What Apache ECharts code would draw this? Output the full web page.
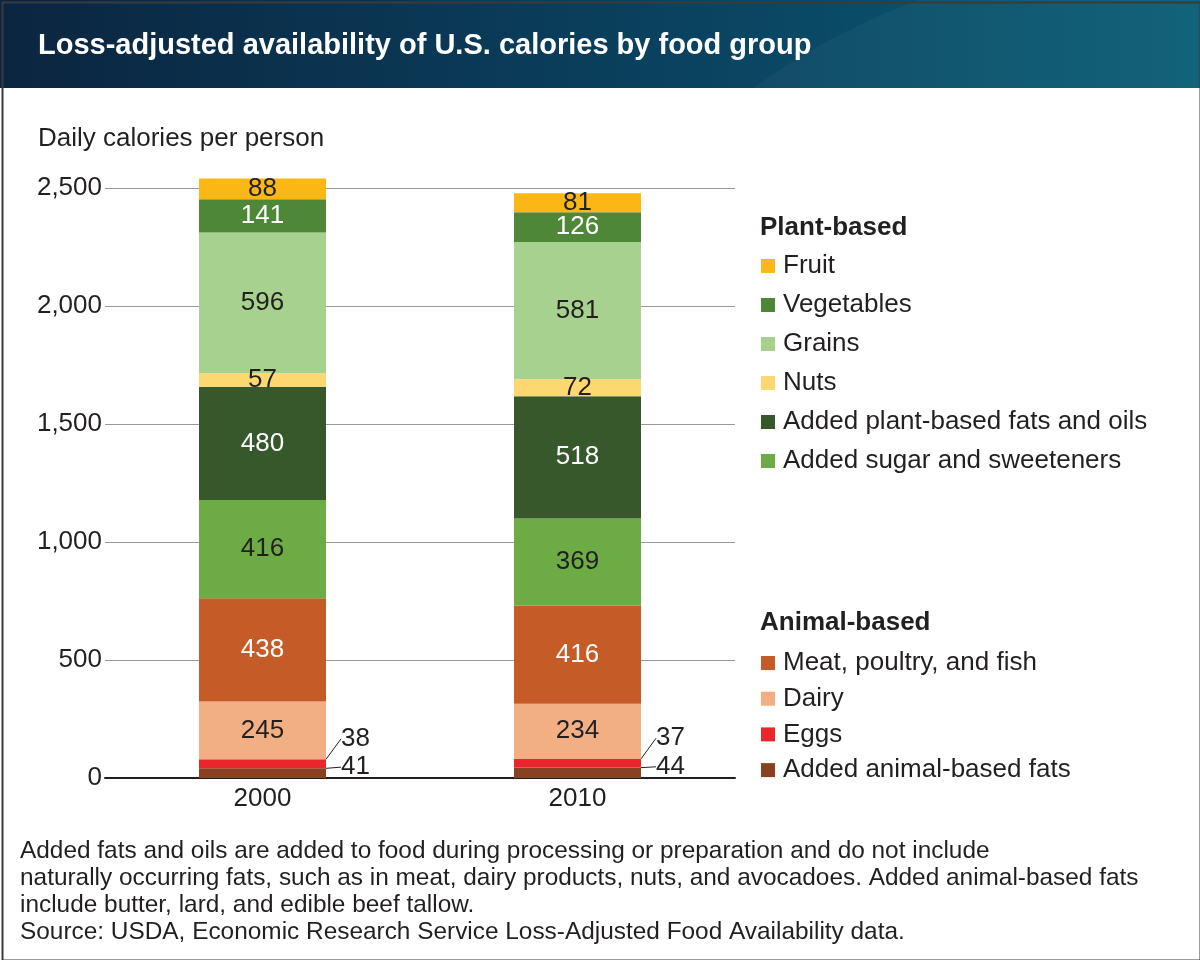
<!DOCTYPE html>
<html><head><meta charset="utf-8">
<script src="https://cdn.jsdelivr.net/npm/echarts@6/dist/echarts.min.js"></script>
<style>html,body{margin:0;padding:0;background:#fff}#c{width:1200px;height:960px}</style>
</head><body><div id="c"></div>
<script>
var years = ['2000', '2010'];
// stacked bottom to top
var seriesNames = ['Added animal-based fats','Eggs','Dairy','Meat, poultry, and fish','Added sugar and sweeteners','Added plant-based fats and oils','Nuts','Grains','Vegetables','Fruit'];
var animalFats = [41, 44];
var eggs = [38, 37];
var dairy = [245, 234];
var meat = [438, 416];
var sugar = [416, 369];
var plantFats = [480, 518];
var nuts = [57, 72];
var grains = [596, 581];
var vegetables = [141, 126];
var fruit = [88, 81];
var yTicks = [0, 500, 1000, 1500, 2000, 2500];
var plantLegend = ['Fruit','Vegetables','Grains','Nuts','Added plant-based fats and oils','Added sugar and sweeteners'];
var animalLegend = ['Meat, poultry, and fish','Dairy','Eggs','Added animal-based fats'];

var values = [animalFats, eggs, dairy, meat, sugar, plantFats, nuts, grains, vegetables, fruit];
var colors = ['#8A4121','#E8262B','#F3AF84','#C55B27','#6DAC45','#37582A','#FDD870','#A7D18F','#4F8738','#FBB814'];
var labelColors = ['#231f20','#231f20','#231f20','#ffffff','#231f20','#ffffff','#231f20','#231f20','#ffffff','#231f20'];
var FONT = 'Liberation Sans, Arial, Helvetica, sans-serif';
var TXT = '#231f20';
var FS = 26;

var series = seriesNames.map(function (name, i) {
  var s = {
    name: name, type: 'bar', stack: 'total', barWidth: 127, clip: false,
    data: values[i],
    itemStyle: { color: colors[i] },
    label: { show: true, position: 'inside', color: labelColors[i], fontSize: FS, fontFamily: FONT },
    emphasis: { disabled: true }
  };
  if (i === 0 || i === 1) {
    s.label = { show: true, position: 'right', distance: 15, color: TXT, fontSize: FS, fontFamily: FONT };
    s.labelLayout = { dy: i === 1 ? -25 : -6 };
    s.labelLine = { show: true, lineStyle: { color: TXT, width: 1 } };
  }
  return s;
});

var chart = echarts.init(document.getElementById('c'), null, { renderer: 'canvas' });
chart.setOption({
  animation: false,
  backgroundColor: '#ffffff',
  textStyle: { fontFamily: FONT, color: TXT },
  grid: { left: 105, right: 465, top: 188, bottom: 182 },
  graphic: [
    { type: 'rect', left: 0, top: 0, z: -10, shape: { width: 1200, height: 88 },
      style: { fill: new echarts.graphic.LinearGradient(0, 0, 1, 0, [
        { offset: 0, color: '#0B2540' }, { offset: 0.6, color: '#0A4461' }, { offset: 1, color: '#0A5E76' }]) } },
    { type: 'circle', z: -9, silent: true, shape: { cx: 1150, cy: 634, r: 675 },
      style: { fill: 'rgba(255,255,255,0.035)' } },
    { type: 'rect', left: 0, top: 88, z: -8, shape: { width: 1200, height: 872 }, style: { fill: '#ffffff' } },
    { type: 'rect', left: 0, top: 0, z: 100, silent: true, shape: { x: 1, y: 1, width: 1198, height: 958 },
      style: { fill: 'none', stroke: '#3a3a3a', lineWidth: 2 } },
    { type: 'text', left: 38, top: 31, style: { text: 'Loss-adjusted availability of U.S. calories by food group', fill: '#ffffff', font: 'bold 29px ' + FONT } },
    { type: 'text', left: 38, top: 126, style: { text: 'Daily calories per person', fill: TXT, font: FS + 'px ' + FONT } },
    { type: 'text', left: 760, top: 215, style: { text: 'Plant-based', fill: TXT, font: 'bold ' + FS + 'px ' + FONT } },
    { type: 'text', left: 760, top: 610, style: { text: 'Animal-based', fill: TXT, font: 'bold ' + FS + 'px ' + FONT } },
    { type: 'text', left: 20, top: 838, style: { text:
      'Added fats and oils are added to food during processing or preparation and do not include\n' +
      'naturally occurring fats, such as in meat, dairy products, nuts, and avocadoes. Added animal-based fats\n' +
      'include butter, lard, and edible beef tallow.\n' +
      'Source: USDA, Economic Research Service Loss-Adjusted Food Availability data.',
      fill: TXT, font: '24.4px ' + FONT, lineHeight: 27 } }
  ],
  legend: [
    { data: plantLegend, orient: 'vertical', left: 761, top: 252, padding: 0, itemWidth: 14, itemHeight: 14, icon: 'rect', itemGap: 11,
      selectedMode: false, textStyle: { fontSize: FS, lineHeight: 28, color: TXT, fontFamily: FONT, padding: [0, 0, 0, 3] } },
    { data: animalLegend, orient: 'vertical', left: 761, top: 649, padding: 0, itemWidth: 14, itemHeight: 14, icon: 'rect', itemGap: 7.7,
      selectedMode: false, textStyle: { fontSize: FS, lineHeight: 28, color: TXT, fontFamily: FONT, padding: [0, 0, 0, 3] } }
  ],
  xAxis: {
    type: 'category', data: years,
    axisLine: { lineStyle: { color: '#231f20', width: 2 } },
    axisTick: { show: false },
    axisLabel: { fontSize: FS, color: TXT, margin: 8, fontFamily: FONT }
  },
  yAxis: {
    type: 'value', min: yTicks[0], max: yTicks[yTicks.length - 1], interval: 500,
    axisLine: { show: false }, axisTick: { show: false },
    axisLabel: { fontSize: FS, color: TXT, margin: 3, fontFamily: FONT,
      formatter: function (v) { return v.toLocaleString('en-US'); } },
    splitLine: { lineStyle: { color: '#9a9a9a', width: 1 } }
  },
  series: series
});
</script></body></html>
